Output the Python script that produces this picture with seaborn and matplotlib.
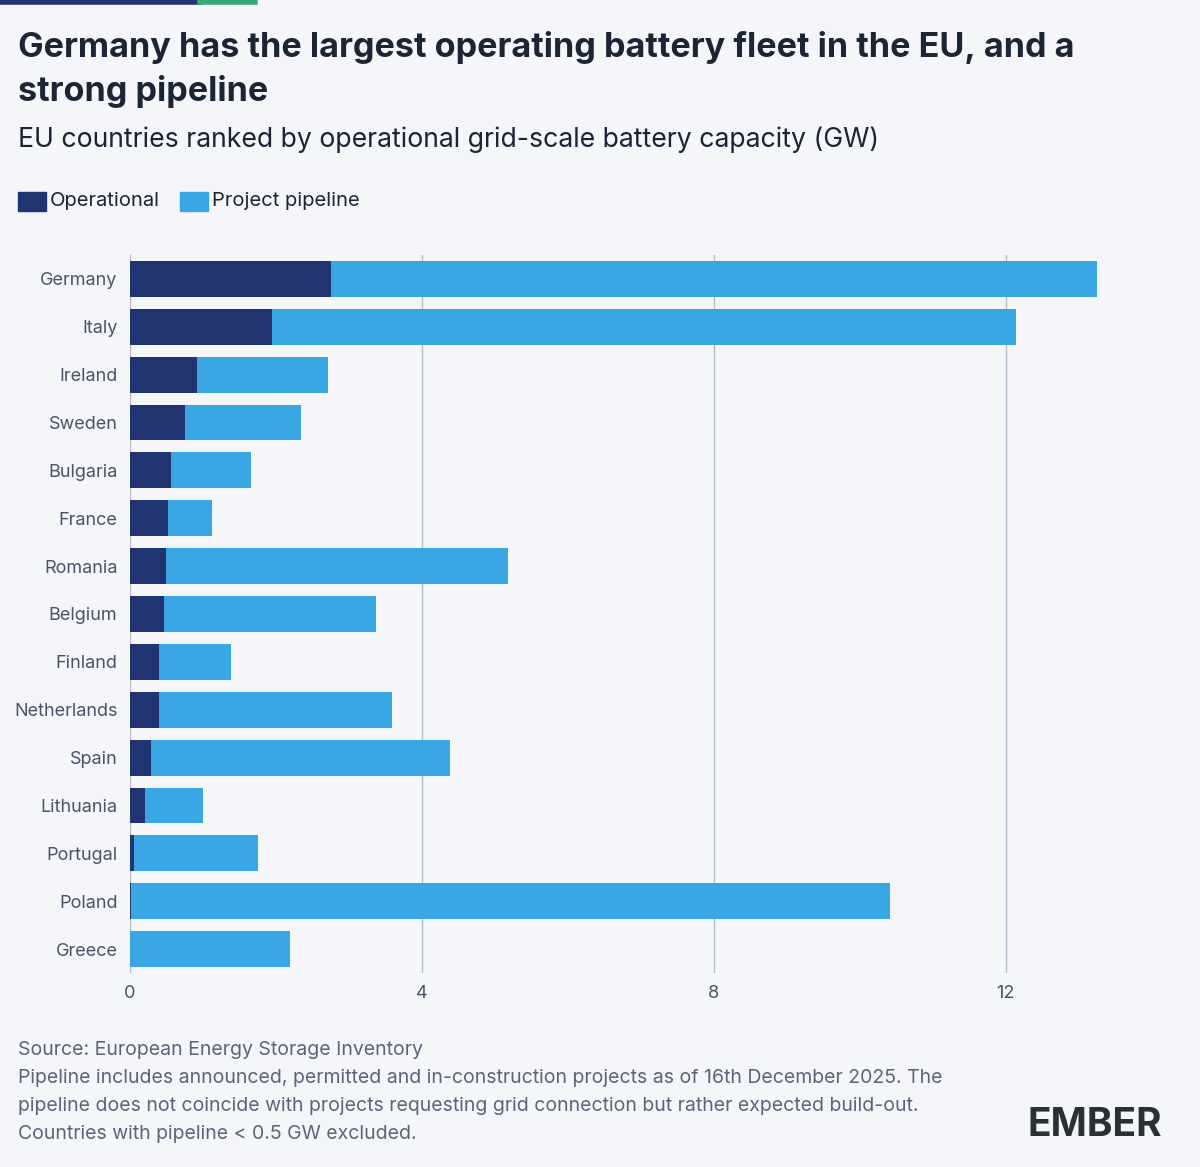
import matplotlib.pyplot as plt
import pandas as pd
import seaborn as sns

# Data (GW)
countries = ['Germany', 'Italy', 'Ireland', 'Sweden', 'Bulgaria', 'France', 'Romania', 'Belgium',
             'Finland', 'Netherlands', 'Spain', 'Lithuania', 'Portugal', 'Poland', 'Greece']
operational = [2.75, 1.95, 0.92, 0.75, 0.56, 0.52, 0.49, 0.47, 0.40, 0.40, 0.29, 0.21, 0.05, 0.02, 0.0]
pipeline = [10.50, 10.19, 1.79, 1.59, 1.10, 0.60, 4.69, 2.90, 0.98, 3.19, 4.09, 0.79, 1.70, 10.39, 2.19]

df = pd.DataFrame({'country': countries, 'operational': operational, 'pipeline': pipeline})
df['total'] = df['operational'] + df['pipeline']

bg = '#f5f6fa'
dark = '#1f3470'
light = '#3aa7e4'
plt.rcParams['font.family'] = ['Inter', 'DejaVu Sans']

fig = plt.figure(figsize=(12, 11.67), dpi=100, facecolor=bg)
ax = fig.add_axes([130 / 1200, 1 - 973 / 1167, (1115 - 130) / 1200, (973 - 255) / 1167])
ax.set_facecolor(bg)

# stacked bars: totals first, operational drawn over them
sns.barplot(data=df, x='total', y='country', color=light, width=0.75, saturation=1, ax=ax)
sns.barplot(data=df, x='operational', y='country', color=dark, width=0.75, saturation=1, ax=ax)

ax.set_xlim(0, 13.5)
ax.set_xticks([0, 4, 8, 12])
ax.set_xticklabels(['0', '4', '8', '12'])
ax.set_xlabel('')
ax.set_ylabel('')
ax.set_axisbelow(True)
ax.grid(axis='x', color='#b4b9cc', linewidth=1)
for s in ax.spines.values():
    s.set_visible(False)
ax.tick_params(length=0, labelsize=13, colors='#4a5468', pad=9)

# top accent bar
fig.add_artist(plt.Line2D([0, 200 / 1200], [0.9985, 0.9985], color=dark, linewidth=4))
fig.add_artist(plt.Line2D([200 / 1200, 255 / 1200], [0.9985, 0.9985], color='#3aa77a', linewidth=4))

# titles
fig.text(18 / 1200, 1 - 48 / 1167, 'Germany has the largest operating battery fleet in the EU, and a',
         fontsize=24.6, fontweight='bold', color='#1b2536', va='center')
fig.text(18 / 1200, 1 - 91 / 1167, 'strong pipeline', fontsize=24.6, fontweight='bold', color='#1b2536', va='center')
fig.text(18 / 1200, 1 - 140 / 1167, 'EU countries ranked by operational grid-scale battery capacity (GW)',
         fontsize=19.2, color='#1b2536', va='center')

# legend
fig.patches.append(plt.Rectangle((18 / 1200, 1 - 211 / 1167), 28 / 1200, 19 / 1167,
                                 transform=fig.transFigure, color=dark))
fig.text(50 / 1200, 1 - 201 / 1167, 'Operational', fontsize=14.5, color='#1b2536', va='center')
fig.patches.append(plt.Rectangle((180 / 1200, 1 - 211 / 1167), 28 / 1200, 19 / 1167,
                                 transform=fig.transFigure, color=light))
fig.text(212 / 1200, 1 - 201 / 1167, 'Project pipeline', fontsize=14.5, color='#1b2536', va='center')

# footnotes
notes = ['Source: European Energy Storage Inventory',
         'Pipeline includes announced, permitted and in-construction projects as of 16th December 2025. The',
         'pipeline does not coincide with projects requesting grid connection but rather expected build-out.',
         "Countries with pipeline < 0.5 GW excluded."]
for i, line in enumerate(notes):
    fig.text(18 / 1200, 1 - (1050 + 28 * i) / 1167, line, fontsize=14, color='#5b6478', va='center')

fig.text(1162 / 1200, 1 - 1126 / 1167, 'EMBER', fontsize=28, fontweight='bold', color='#2c2f33',
         ha='right', va='center')

fig.savefig('out.png', dpi=100, facecolor=bg)
